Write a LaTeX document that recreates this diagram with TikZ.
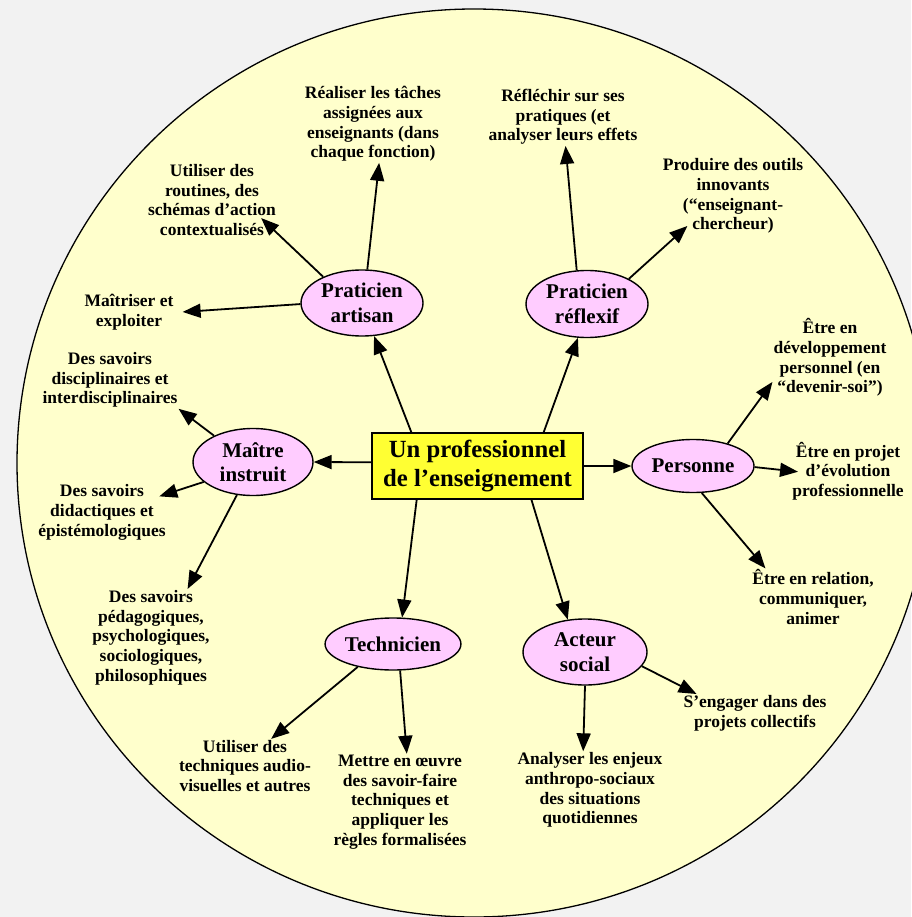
\documentclass[tikz,border=0pt]{standalone}
\usepackage{fontspec}
\setmainfont{Liberation Serif}
\usepackage{tikz}
\usetikzlibrary{arrows.meta}
\usetikzlibrary{shapes.geometric}
\definecolor{fondgris}{HTML}{F2F2F2}
\definecolor{fondjaune}{HTML}{FFFFCC}
\definecolor{rose}{HTML}{FFCCFF}
\definecolor{jaune}{HTML}{FFFF33}

\begin{document}
\begin{tikzpicture}[x=1pt, y=-1pt,
		fleche/.style={-{Triangle[length=18pt,width=14pt]}, line width=1.8pt},
		role/.style={ellipse, draw, line width=1.4pt, fill=rose, inner sep=0pt, align=center, font=\fontsize{21}{24.5}\selectfont\bfseries},
		texte/.style={inner sep=1pt, align=center, font=\fontsize{17.5}{19.7}\selectfont\bfseries}]
				    		\useasboundingbox (0,0) rectangle (911,917);
				    		\fill[fondgris] (0,0) rectangle (911,917);
				    		\draw[fill=fondjaune, line width=1.3pt] (474,463) ellipse [x radius=457, y radius=454];
				    		% centre
				    		\node[draw, fill=jaune, line width=1.4pt, minimum width=211pt, minimum height=66pt, inner sep=0pt, align=center, font=\fontsize{24.7}{29}\selectfont\bfseries] (prof) at (477.5,466) {Un professionnel\\de l’enseignement};
				    		% les six roles
				    		\node[role, minimum width=122pt, minimum height=66pt] (artisan) at (362,303) {Praticien\\artisan};
				    		\node[role, minimum width=122pt, minimum height=67pt] (reflexif) at (587,304) {Praticien\\réflexif};
				    		\node[role, minimum width=120pt, minimum height=67pt] (instruit) at (253,462) {Maître\\instruit};
				    		\node[role, minimum width=122pt, minimum height=53pt] (personne) at (693,466) {Personne};
				    		\node[role, minimum width=123pt, minimum height=52pt] (technicien) at (393,644) {Technicien};
				    		\node[role, minimum width=124pt, minimum height=66pt] (acteur) at (585,652) {Acteur\\social};
				    		% les textes
				    		\node[texte] (taches) at (373,124) {Réaliser les tâches\\assignées aux\\enseignants (dans\\chaque fonction)};
				    		\node[texte] (routines) at (212,200) {Utiliser des\\routines, des\\schémas d’action\\contextualisés};
				    		\node[texte] (maitriser) at (129,312.5) {Maîtriser et\\exploiter};
				    		\node[texte] (reflechir) at (563,117) {Réfléchir sur ses\\pratiques (et\\analyser leurs effets};
				    		\node[texte] (outils) at (733,196) {Produire des outils\\innovants\\(“enseignant-\\chercheur)};
				    		\node[texte] (discip) at (110,380) {Des savoirs\\disciplinaires et\\interdisciplinaires};
				    		\node[texte] (didact) at (102,512.5) {Des savoirs\\didactiques et\\épistémologiques};
				    		\node[texte] (pedago) at (151,637.5) {Des savoirs\\pédagogiques,\\psychologiques,\\sociologiques,\\philosophiques};
				    		\node[texte] (devsoi) at (830,357.5) {Être en\\développement\\personnel (en\\“devenir-soi”)};
				    		\node[texte] (projet) at (848,471) {Être en projet\\d’évolution\\professionnelle};
				    		\node[texte] (relation) at (813,597) {Être en relation,\\communiquer,\\animer};
				    		\node[texte] (engager) at (755,713) {S’engager dans des\\projets collectifs};
				    		\node[texte] (enjeux) at (590,790) {Analyser les enjeux\\anthropo-sociaux\\des situations\\quotidiennes};
				    		\node[texte] (audio) at (245,766) {Utiliser des\\techniques audio-\\visuelles et autres};
				    		\node[texte] (savoirfaire) at (400,802) {Mettre en œuvre\\des savoir-faire\\techniques et\\appliquer les\\règles formalisées};
				    		% fleches du centre
				    		\draw[fleche] (prof.153) -- (artisan.290);
				    		\draw[fleche] (prof.27) -- (reflexif.255);
				    		\draw[fleche] (prof.178) -- (instruit.east);
				    		\draw[fleche] (prof.east) -- (personne.west);
				    		\draw[fleche] (prof.209) -- (technicien.71);
				    		\draw[fleche] (prof.-32) -- (acteur.118);
				    		% fleches des roles
				    		\draw[fleche] (artisan.81) -- (taches.-81);
				    		\draw[fleche, shorten >=-22pt] (artisan.146) -- (routines.-27);
				    		\draw[fleche, shorten >=8pt] (artisan.181) -- (maitriser.east);
				    		\draw[fleche] (reflexif.107) -- (reflechir.-85);
				    		\draw[fleche, shorten >=-13pt] (reflexif.31) -- (outils.215);
				    		\draw[fleche] (instruit.146) -- (discip.south east);
				    		\draw[fleche, shorten >=-8pt] (instruit.202) -- (didact.16);
				    		\draw[fleche] (instruit.244) -- (pedago.53);
				    		\draw[fleche] (personne.33) -- (devsoi.203);
				    		\draw[fleche, shorten >=-7pt] (personne.-1) -- (projet.west);
				    		\draw[fleche] (personne.-72) -- (relation.149);
				    		\draw[fleche] (technicien.213) -- (audio.46);
				    		\draw[fleche] (technicien.-75) -- (savoirfaire.82);
				    		\draw[fleche] (acteur.south) -- (enjeux.100);
				    		\draw[fleche] (acteur.-14) -- (engager.162);
				    	\end{tikzpicture}
\end{document}
